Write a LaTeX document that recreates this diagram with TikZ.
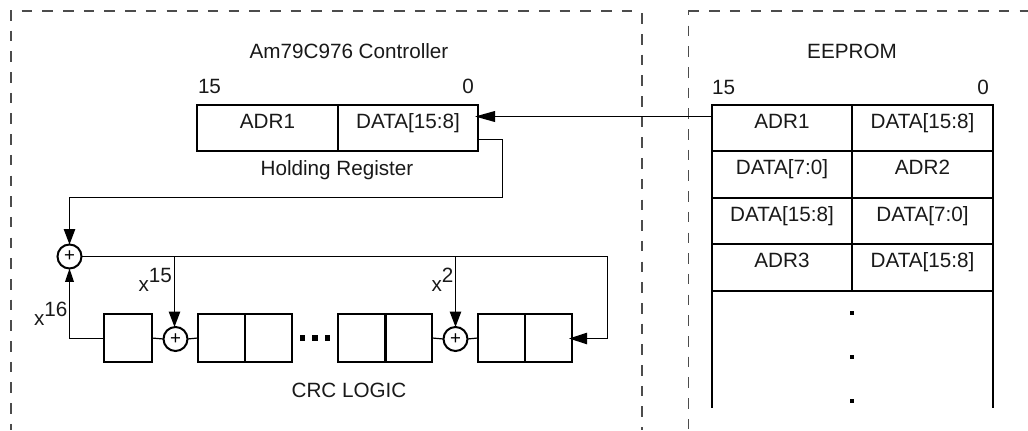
\documentclass[tikz,border=0pt]{standalone}
\usepackage{fontspec}
\setmainfont{Liberation Sans}
\usetikzlibrary{arrows.meta}
\tikzset{
  lbl/.style={inner sep=0pt,outer sep=0pt,text=black!90},
  cell/.style={draw=black,line width=1.6pt,minimum width=105.5pt,minimum height=34.9pt,inner sep=0pt,outer sep=0pt,
    label={[lbl,text height=11pt,text depth=0pt,yshift=5.5pt]center:#1}},
  sq/.style={draw=black,line width=1.6pt,minimum size=35.6pt,inner sep=0pt,outer sep=0pt},
  sumc/.style={circle,draw=black,line width=1.5pt,minimum size=18pt,inner sep=0pt,outer sep=0pt,font=\fontsize{14}{14}\selectfont},
  wire/.style={line width=0.9pt,draw=black},
  big/.style={wire,-{Triangle[width=8.5pt,length=11.5pt]}},
  bigb/.style={wire,-{Triangle[width=8.5pt,length=13.5pt]}},
  small/.style={wire,-{Triangle[width=6.5pt,length=10pt]}},
  bound/.style={line width=0.8pt,draw=black!70,dash pattern=on 7.9pt off 7.62pt},
  dotsq/.style={fill=black,inner sep=0pt,outer sep=0pt,minimum size=#1},
}
\begin{document}
\begin{tikzpicture}[x=0.75pt,y=-0.75pt,every node/.append style={font=\fontsize{15.5}{17}\selectfont}]
\useasboundingbox (0,0) rectangle (1028,430);
% boundaries
\coordinate (la) at (11,430); \coordinate (lb) at (11,10); \coordinate (lt) at (21.7,11); \coordinate (lc) at (636,11);
\coordinate (ld) at (642,13.3); \coordinate (le) at (642,430);
\coordinate (ra) at (688.5,430); \coordinate (rb) at (688.5,10); \coordinate (rt) at (688.5,11); \coordinate (rc) at (1028,11);
\draw[bound] (lb) -- (la);
\draw[bound] (lt) -- (lc);
\draw[bound] (ld) -- (le);
\draw[bound,dash phase=3.8pt] (rb) -- (ra);
\draw[bound] (rt) -- (rc);
% titles
\node[lbl,anchor=base] (tctl) at (349,58) {Am79C976 Controller};
\node[lbl,anchor=base] (teep) at (852,58) {EEPROM};
\node[lbl,anchor=base] (h15) at (209.5,93) {15};
\node[lbl,anchor=base] (h0) at (468,93) {0};
\node[lbl,anchor=base] (e15) at (723.5,94) {15};
\node[lbl,anchor=base] (e0) at (983,94) {0};
% holding register
\node[cell=ADR1] (ha) at (267.5,128) {};
\node[cell={DATA[15:8]}] (hb) at (408,128) {};
\node[lbl,anchor=base] (hlab) at (337,175) {Holding Register};
% EEPROM table
\node[cell=ADR1] (e1a) at (782,128) {};
\node[cell={DATA[15:8]}] (e1b) at (922.5,128) {};
\node[cell={DATA[7:0]}] (e2a) at (782,174.5) {};
\node[cell=ADR2] (e2b) at (922.5,174.5) {};
\node[cell={DATA[15:8]}] (e3a) at (782,221) {};
\node[cell={DATA[7:0]}] (e3b) at (922.5,221) {};
\node[cell=ADR3] (e4a) at (782,267.5) {};
\node[cell={DATA[15:8]}] (e4b) at (922.5,267.5) {};
\coordinate (tl) at (712,291); \coordinate (tlb) at (712,408);
\coordinate (tr) at (993,291); \coordinate (trb) at (993,408);
\draw[line width=1.6pt,draw=black] (tl) -- (tlb);
\draw[line width=1.6pt,draw=black] (tr) -- (trb);
\node[dotsq=3.3pt] (d1) at (852,313) {};
\node[dotsq=3.3pt] (d2) at (852,357) {};
\node[dotsq=3.3pt] (d3) at (852,401) {};
% CRC
\node[sumc] (s1) at (69.5,256.5) {+};
\node[sumc] (s2) at (175.5,339) {+};
\node[sumc] (s3) at (455.5,339) {+};
\node[sq] (b1) at (128,338) {};
\node[sq] (b2a) at (221.5,338) {};
\node[sq] (b2b) at (268.5,338) {};
\node[sq] (b3a) at (362,338) {};
\node[sq] (b3b) at (408.5,338) {};
\node[sq] (b4a) at (501.5,338) {};
\node[sq] (b4b) at (548.5,338) {};
\node[dotsq=3.8pt] (p1) at (302.5,338) {};
\node[dotsq=3.8pt] (p2) at (315,338) {};
\node[dotsq=3.8pt] (p3) at (327.5,338) {};
\node[lbl,anchor=base] (crc) at (349,397) {CRC LOGIC};
% exponents
\node[lbl,anchor=base west] (x16) at (34,325) {x\raisebox{6.75pt}{16}};
\node[lbl,anchor=base west] (x15) at (138.5,291) {x\raisebox{6.75pt}{15}};
\node[lbl,anchor=base west] (x2) at (431.5,291) {x\raisebox{6.75pt}{2}};
% connectors
\coordinate (hin) at (475,116.5);
\coordinate (eout) at (712,116.5);
\draw[wire,line width=1.2pt,-{Triangle[width=8pt,length=15pt]}] (eout) -- (hin);
\coordinate (hout) at (478,139.5);
\coordinate (t1) at (502.5,197.5);
\draw[big] (hout) -| (t1) -| (s1.north);
\coordinate (tap15) at (174.5,256.5);
\coordinate (tap2) at (455.5,256.5);
\draw[big] (tap15) -- (s2.north -| tap15);
\draw[big] (tap2) -- (s3.north);
\coordinate (fb) at (607.5,256.5);
\coordinate (fbb) at (607.5,338.5);
\coordinate (fbt) at (569,338.5);
\draw[wire] (s1.east |- fb) -- (fb);
\draw[bigb] (fb) -- (fbb) -- (fbt);
\coordinate (b1l) at (104,338.5);
\draw[small] (b1l) -| (s1.south);
\draw[wire] (b1.east) -- (s2.west);
\draw[wire] (s2.east) -- (b2a.west);
\draw[wire] (b3b.east) -- (s3.west);
\draw[wire] (s3.east) -- (b4a.west);
\end{tikzpicture}
\end{document}
